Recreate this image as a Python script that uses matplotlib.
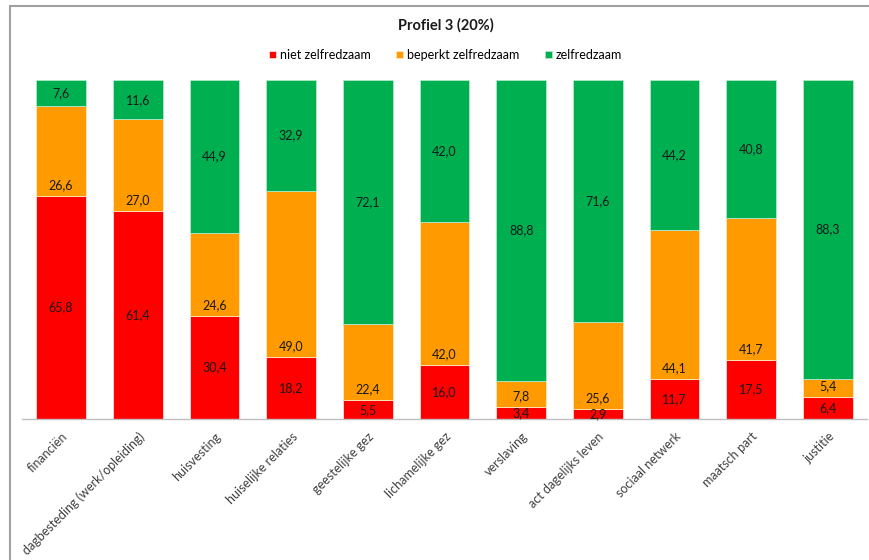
import matplotlib.pyplot as plt
from matplotlib.patches import Rectangle
import numpy as np

plt.rcParams['font.family'] = ['Lato', 'DejaVu Sans']

domeinen = ['financiën', 'dagbesteding (werk/opleiding)', 'huisvesting',
            'huiselijke relaties', 'geestelijke gez', 'lichamelijke gez',
            'verslaving', 'act dagelijks leven', 'sociaal netwerk',
            'maatsch part', 'justitie']
niet_zelfredzaam = [65.8, 61.4, 30.4, 18.2, 5.5, 16.0, 3.4, 2.9, 11.7, 17.5, 6.4]
beperkt_zelfredzaam = [26.6, 27.0, 24.6, 49.0, 22.4, 42.0, 7.8, 25.6, 44.1, 41.7, 5.4]
zelfredzaam = [7.6, 11.6, 44.9, 32.9, 72.1, 42.0, 88.8, 71.6, 44.2, 40.8, 88.3]

rood = '#FF0000'
oranje = '#FF9A00'
groen = '#00B050'


def nl(v):
    return f'{v:.1f}'.replace('.', ',')


fig = plt.figure(figsize=(8.7, 5.6), dpi=100)
ax = fig.add_axes([0.0253, 0.2518, 0.9713, 0.6052])

x = np.arange(len(domeinen))
w = 0.65
onder = np.array(niet_zelfredzaam)
midden = onder + np.array(beperkt_zelfredzaam)

b1 = ax.bar(x, niet_zelfredzaam, w, color=rood, edgecolor='#ffdddd', linewidth=0.6,
            label='niet zelfredzaam')
b2 = ax.bar(x, beperkt_zelfredzaam, w, bottom=onder, color=oranje, edgecolor='#ffe8c0',
            linewidth=0.6, label='beperkt zelfredzaam')
b3 = ax.bar(x, zelfredzaam, w, bottom=midden, color=groen, edgecolor='#b0e8c8',
            linewidth=0.6, label='zelfredzaam')

# labels: rood en groen in het midden, oranje net boven de onderkant
for i in x:
    ax.text(i, onder[i] / 2, nl(niet_zelfredzaam[i]), ha='center', va='center',
            fontsize=9, color='#1a1a1a')
    ax.annotate(nl(beperkt_zelfredzaam[i]), (i, onder[i]), xytext=(0, 7.8),
                textcoords='offset points', ha='center', va='center',
                fontsize=9, color='#1a1a1a')
    ax.text(i, midden[i] + zelfredzaam[i] / 2, nl(zelfredzaam[i]), ha='center',
            va='center', fontsize=9, color='#1a1a1a')

ax.set_xlim(-0.51, 10.51)
ax.set_ylim(0, 100)
ax.set_yticks([])
ax.set_xticks(x)
ax.set_xticklabels(domeinen, rotation=45, ha='right', va='top',
                   rotation_mode='anchor', fontsize=9, color='#404040')
ax.tick_params(axis='x', length=0, pad=8)
for s in ['top', 'right', 'left']:
    ax.spines[s].set_visible(False)
ax.spines['bottom'].set_color('#BFBFBF')
ax.spines['bottom'].set_linewidth(1.0)

fig.text(0.512, 0.955, 'Profiel 3 (20%)', ha='center', va='center',
         fontsize=10.5, fontweight='bold', color='#1a1a1a')
fig.legend(handles=[b1, b2, b3], loc='center', bbox_to_anchor=(0.512, 0.902),
           ncol=3, frameon=False, fontsize=9, handlelength=0.6, handleheight=0.6,
           handletextpad=0.3, columnspacing=2.0)

# grijze rand om de grafiek
fig.patches.append(Rectangle((10 / 870, -0.1), 1.2, 1.1 - 6 / 560,
                             transform=fig.transFigure, fill=False,
                             edgecolor='#A0A0A0', linewidth=1.5))

fig.savefig('out.png', dpi=100)
